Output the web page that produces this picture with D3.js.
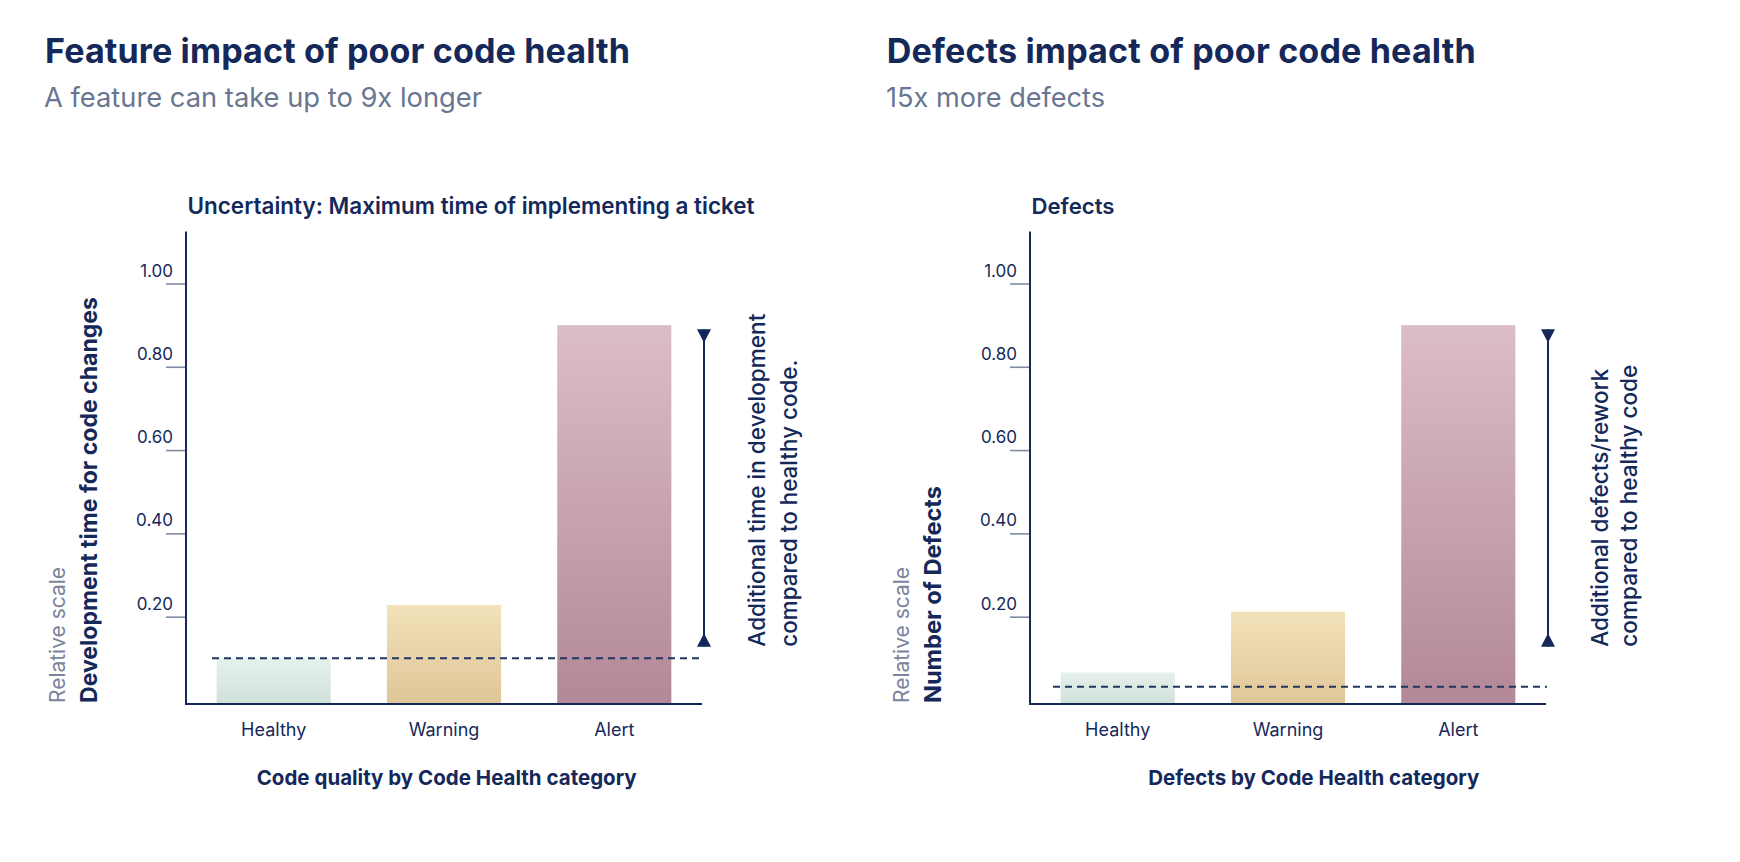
<!DOCTYPE html>
<html>
<head>
<meta charset="utf-8">
<script src="https://cdn.jsdelivr.net/npm/d3@7"></script>
<style>
  html, body { margin: 0; padding: 0; background: #ffffff; }
  svg { display: block; font-family: Inter, "Noto Sans", sans-serif; }
</style>
</head>
<body>
<svg id="chart" width="1740" height="862"></svg>
<script>
// ---------------- data ----------------
const categories = ["Healthy", "Warning", "Alert"];
const featureValues = [0.10, 0.228, 0.90];
const defectValues = [0.066, 0.212, 0.90];
const featureReference = 0.10;   // dashed healthy baseline (left)
const defectReference = 0.032;   // dashed healthy baseline (right)
const yTickValues = [0.20, 0.40, 0.60, 0.80, 1.00];
const arrowSpan = [0.128, 0.89]; // extent of the "additional" marker, in data units

const panelTitles = ["Feature impact of poor code health", "Defects impact of poor code health"];
const panelSubtitles = ["A feature can take up to 9x longer", "15x more defects"];
const chartTitles = ["Uncertainty: Maximum time of implementing a ticket", "Defects"];
const yAxisLabels = ["Development time for code changes", "Number of Defects"];
const yAxisNote = "Relative scale";
const annotations = [
  ["Additional time in development", "compared to healthy code."],
  ["Additional defects/rework", "compared to healthy code"]
];
const xAxisTitles = ["Code quality by Code Health category", "Defects by Code Health category"];

// ---------------- style ----------------
const NAVY = "#14295a";
const GREY = "#6a7691";
const TICK = "#7f8aa3";
const gradients = {
  Healthy: ["#e6f2ec", "#cfe1d8"],
  Warning: ["#f2e1b9", "#dfc698"],
  Alert:   ["#dbbdc7", "#b38898"]
};

const svg = d3.select("#chart");
const defs = svg.append("defs");
Object.entries(gradients).forEach(([k, [c0, c1]]) => {
  const g = defs.append("linearGradient").attr("id", "g-" + k)
    .attr("x1", 0).attr("y1", 0).attr("x2", 0).attr("y2", 1);
  g.append("stop").attr("offset", "0%").attr("stop-color", c0);
  g.append("stop").attr("offset", "100%").attr("stop-color", c1);
});

// fit helper: nudge font-size toward target width, then fix spacing
function fit(sel, target, base) {
  const node = sel.node();
  const w = node.getComputedTextLength();
  if (w > 0) {
    let fs = base * target / w;
    fs = Math.max(base * 0.9, Math.min(base * 1.1, fs));
    sel.attr("font-size", fs);
    sel.attr("textLength", target).attr("lengthAdjust", "spacing");
  }
  return sel;
}

const y = d3.scaleLinear().domain([0, 1.125]).range([700, 231.4]);
const axisBase = 704;

const panels = [
  { titleX: 45, subX: 44, titleW: 585, subW: 438, chartTitleW: 567, axisX: 186,
    yLabelW: 406, annW: [333, 287], annOff: [61, 93], xTitleX: 256.7, xTitleW: 380,
    values: featureValues, ref: featureReference, dashStart: 26 },
  { titleX: 886.7, subX: 886, titleW: 589, subW: 219, chartTitleW: 83, axisX: 1030,
    yLabelW: 217, annW: [278, 282], annOff: [60, 89], xTitleX: 1148.3, xTitleW: 331,
    values: defectValues, ref: defectReference, dashStart: 23 }
];

panels.forEach((p, i) => {
  const g = svg.append("g");

  // headline + subtitle
  const t = g.append("text").attr("x", p.titleX).attr("y", 63.3)
    .attr("fill", NAVY).attr("font-weight", 700).attr("font-size", 31)
    .text(panelTitles[i]);
  fit(t, p.titleW, 31);
  const s = g.append("text").attr("x", p.subX).attr("y", 107.3)
    .attr("fill", GREY).attr("font-weight", 400).attr("font-size", 25)
    .text(panelSubtitles[i]);
  fit(s, p.subW, 25);

  // chart title
  const ct = g.append("text").attr("x", p.axisX + 1.5).attr("y", 214.3)
    .attr("fill", NAVY).attr("font-weight", 600).attr("font-size", 21)
    .text(chartTitles[i]);
  fit(ct, p.chartTitleW, 21);

  const x0 = p.axisX, x1 = p.axisX + 516;
  const x = d3.scaleBand().domain(categories).range([x0, x1])
    .paddingInner(0.33).paddingOuter(0.18);

  // bars
  g.selectAll("rect.bar").data(categories.map((c, k) => ({ c, v: p.values[k] })))
    .join("rect").attr("class", "bar")
    .attr("x", d => x(d.c)).attr("width", x.bandwidth())
    .attr("y", d => y(d.v)).attr("height", d => axisBase - y(d.v))
    .attr("fill", d => `url(#g-${d.c})`);

  // y axis ticks
  const ya = d3.axisLeft(y).tickValues(yTickValues).tickSize(20).tickFormat(d3.format(".2f"));
  const yg = g.append("g").attr("transform", `translate(${x0},0)`).call(ya);
  yg.select(".domain").remove();
  yg.selectAll(".tick line").attr("stroke", TICK).attr("stroke-width", 1.6);
  yg.selectAll(".tick text").attr("x", -13).attr("dy", "-7.4")
    .attr("fill", NAVY).attr("font-size", 17).attr("font-family", "Inter, sans-serif")
    .attr("text-anchor", "end");

  // x axis labels
  const xa = d3.axisBottom(x).tickSize(0);
  const xg = g.append("g").attr("transform", `translate(0,${axisBase})`).call(xa);
  xg.select(".domain").remove();
  xg.selectAll(".tick text").attr("y", 31.5).attr("dy", 0)
    .attr("fill", NAVY).attr("font-size", 18).attr("font-family", "Inter, sans-serif");

  // axis lines
  g.append("line").attr("x1", x0).attr("x2", x0).attr("y1", y(1.125)).attr("y2", axisBase + 1)
    .attr("stroke", NAVY).attr("stroke-width", 2);
  g.append("line").attr("x1", x0).attr("x2", x1).attr("y1", axisBase).attr("y2", axisBase)
    .attr("stroke", NAVY).attr("stroke-width", 2);

  // dashed healthy reference line
  g.append("line").attr("x1", x0 + p.dashStart).attr("x2", x1 + 1)
    .attr("y1", y(p.ref)).attr("y2", y(p.ref))
    .attr("stroke", "#1f3662").attr("stroke-width", 2).attr("stroke-dasharray", "7,5");

  // vertical marker with triangles
  const ax = x1 + 2;
  const yt = y(arrowSpan[1]), yb = y(arrowSpan[0]);
  g.append("line").attr("x1", ax).attr("x2", ax).attr("y1", yt).attr("y2", yb)
    .attr("stroke", NAVY).attr("stroke-width", 2);
  g.append("path").attr("d", `M${ax - 7},${yt} L${ax + 7},${yt} L${ax},${yt + 13.5} Z`).attr("fill", NAVY);
  g.append("path").attr("d", `M${ax - 7},${yb} L${ax + 7},${yb} L${ax},${yb - 13.5} Z`).attr("fill", NAVY);

  // annotation text (rotated)
  annotations[i].forEach((line, k) => {
    const tx = ax + p.annOff[k];
    const a = g.append("text").attr("transform", `translate(${tx},${yb}) rotate(-90)`)
      .attr("fill", NAVY).attr("font-weight", 500).attr("font-size", 23)
      .text(line);
    fit(a, p.annW[k], 23);
  });

  // y axis labels (rotated)
  const rl = g.append("text").attr("transform", `translate(${x0 - 121},${axisBase - 1}) rotate(-90)`)
    .attr("fill", "#7a849c").attr("font-weight", 400).attr("font-size", 20)
    .text(yAxisNote);
  fit(rl, 136, 20);
  const yl = g.append("text").attr("transform", `translate(${x0 - 89},${axisBase - 1}) rotate(-90)`)
    .attr("fill", NAVY).attr("font-weight", 700).attr("font-size", 23)
    .text(yAxisLabels[i]);
  fit(yl, p.yLabelW, 23);

  // x axis title
  const xt = g.append("text").attr("x", p.xTitleX).attr("y", 785)
    .attr("fill", NAVY).attr("font-weight", 700).attr("font-size", 19)
    .text(xAxisTitles[i]);
  fit(xt, p.xTitleW, 19);
});
</script>
</body>
</html>
